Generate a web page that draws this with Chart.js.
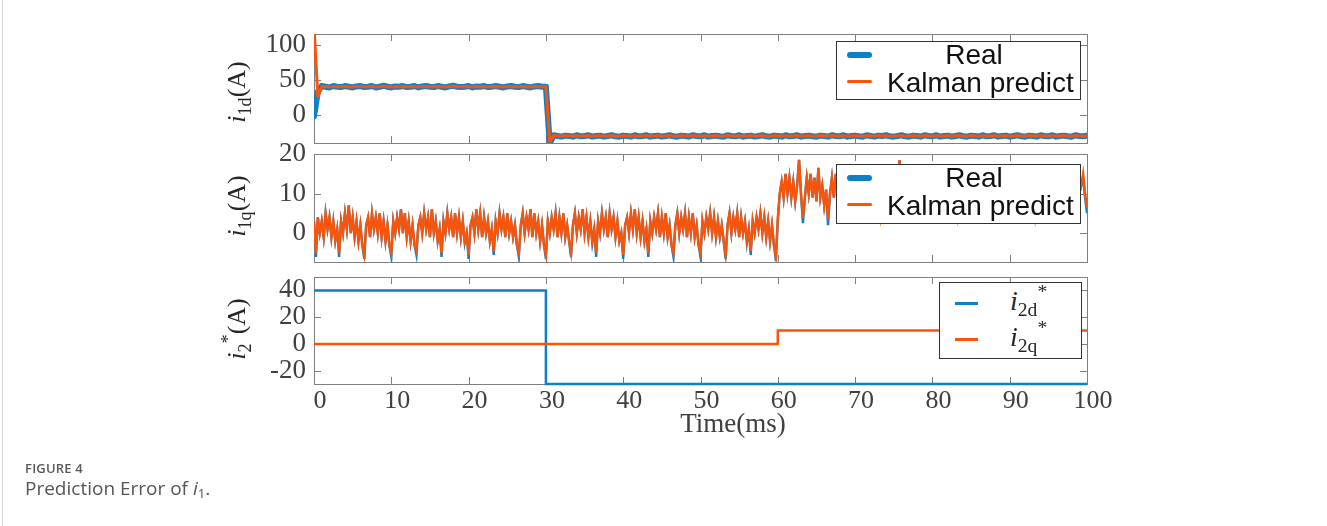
<!DOCTYPE html>
<html>
<head>
<meta charset="utf-8">
<title>Prediction Error of i1</title>
<script src="https://cdn.jsdelivr.net/npm/chart.js@4.4.1/dist/chart.umd.min.js"></script>
<style>
  html, body { margin: 0; padding: 0; background: #ffffff; }
  #page { position: relative; width: 1327px; height: 526px; overflow: hidden; background: #fff; }
  #page canvas { position: absolute; left: 0; top: 0; }
  .edge { position: absolute; left: 2px; top: 0; width: 1px; height: 526px; background: #d6d6d6; }
  .ytitle { position: absolute; transform: translate(-50%, -50%) rotate(-90deg); font: 26px 'Liberation Serif', serif; color: #262626; white-space: nowrap; line-height: 1; }
  .xtitle { position: absolute; transform: translate(-50%, -50%); font: 27px 'Liberation Serif', serif; color: #404040; white-space: nowrap; line-height: 1; }
  .sub { font-size: 0.7em; position: relative; top: 0.32em; }
  .sup { font-size: 0.7em; position: relative; top: -0.6em; }
  .legend { position: absolute; background: #fff; border: 1px solid #333; box-sizing: border-box; }
  .sw { position: absolute; }
  .lt { position: absolute; font: 28px 'Liberation Sans', Arial, sans-serif; line-height: 28px; color: #111; white-space: nowrap; }
  .ls { position: absolute; font: 28px 'Liberation Serif', serif; line-height: 28px; color: #262626; white-space: nowrap; }
  .fig { position: absolute; left: 25px; top: 459px; font: 600 13px 'Open Sans', sans-serif; color: #5a5a5a; letter-spacing: 0.2px; }
  .cap { position: absolute; left: 25px; top: 475px; font: 19px 'Open Sans', sans-serif; color: #555; white-space: nowrap; }
  .cap sub { font-size: 0.7em; vertical-align: -0.25em; }
</style>
</head>
<body>
<div id="page">
  <div class="edge"></div>
  <canvas id="c1" width="1327" height="526"></canvas>
  <canvas id="c2" width="1327" height="526"></canvas>
  <canvas id="c3" width="1327" height="526"></canvas>

  <div class="ytitle" style="left:237px; top:92px;"><i>i</i><span class="sub">1d</span>(A)</div>
  <div class="ytitle" style="left:237px; top:206px;"><i>i</i><span class="sub">1q</span>(A)</div>
  <div class="ytitle" style="left:237px; top:329px;"><i>i</i><span class="sub">2</span><span class="sup">*</span>(A)</div>
  <div class="xtitle" style="left:733px; top:423px;">Time(ms)</div>

  <div class="legend" style="left:836px; top:41px; width:245px; height:59px;">
    <div class="sw" style="left:10px; top:10px; width:25px; height:6px; border-radius:3px; background:#0d80c6;"></div>
    <div class="sw" style="left:10px; top:38px; width:25px; height:3px; border-radius:2px; background:#fa540a;"></div>
    <div class="lt" style="left:42px; width:190px; text-align:center; top:-1px;">Real</div>
    <div class="lt" style="left:50px; top:27px;">Kalman predict</div>
  </div>
  <div class="legend" style="left:836px; top:164px; width:245px; height:60px;">
    <div class="sw" style="left:10px; top:10px; width:25px; height:6px; border-radius:3px; background:#0d80c6;"></div>
    <div class="sw" style="left:10px; top:38px; width:25px; height:3px; border-radius:2px; background:#fa540a;"></div>
    <div class="lt" style="left:42px; width:190px; text-align:center; top:-1px;">Real</div>
    <div class="lt" style="left:50px; top:27px;">Kalman predict</div>
  </div>
  <div class="legend" style="left:939px; top:282px; width:143px; height:77px;">
    <div class="sw" style="left:15px; top:19px; width:23px; height:3px; background:#0d80c6;"></div>
    <div class="sw" style="left:15px; top:55px; width:23px; height:3px; background:#fa540a;"></div>
    <div class="ls" style="left:70px; top:4px;"><i>i</i><span class="sub">2d</span><span class="sup">*</span></div>
    <div class="ls" style="left:70px; top:40px;"><i>i</i><span class="sub">2q</span><span class="sup">*</span></div>
  </div>

  <div class="fig">FIGURE 4</div>
  <div class="cap">Prediction Error of <i>i</i><sub>1</sub>.</div>
</div>

<script>
// time axis (ms)
const xTicks = [0, 10, 20, 30, 40, 50, 60, 70, 80, 90, 100];

// panel 1: i1d, sampled every 0.5 ms
const i1dStep = 0.5;
const i1dTicks = [0, 50, 100];
const i1dReal = [
    -2, 33, 41, 40, 39, 41, 40, 39.5, 41, 40,
    39, 40.5, 41, 39.5, 40, 41, 39, 40, 41.5, 40,
    39, 40.5, 40, 41, 39.5, 40, 41, 39, 40.5, 41,
    40, 39.5, 41, 40, 39, 40.5, 41.5, 40, 39.5, 40,
    41, 39, 40.5, 40, 41, 39.5, 40, 41, 40, 39,
    40.5, 41, 40, 39.5, 41, 40, 39, 40.5, 41, 40,
    40, -41, -29, -30, -31, -29.5, -30, -31, -29, -30.5,
    -30, -29, -31, -30, -29.5, -31, -30, -29, -30.5, -31,
    -29.5, -30, -31, -29, -30.5, -30, -29, -31, -30, -29.5,
    -31, -30, -29, -30.5, -31, -29.5, -30, -31, -29, -30,
    -30.5, -29, -31, -30, -29.5, -30.5, -31, -29, -30, -30.5,
    -29, -31, -30, -29.5, -31, -30, -29, -30.5, -31, -29.5,
    -30, -31, -29, -30.5, -30, -29, -31, -30, -29.5, -30.5,
    -31, -29.5, -30, -31, -29, -30, -30.5, -29, -31, -30,
    -29.5, -30.5, -31, -29, -30, -31, -29.5, -30, -29, -30.5,
    -31, -30, -29, -30.5, -31, -29.5, -30, -31, -29, -30,
    -30.5, -29, -31, -30, -29.5, -31, -30, -29, -30.5, -31,
    -29.5, -30, -31, -29, -30.5, -30, -29, -31, -30, -29.5,
    -31, -30, -29, -30.5, -31, -29.5, -30, -31, -29, -30,
    -30.5, -29, -31, -30, -29.5, -30.5, -31, -29, -30, -30.5,
    -29.5
];
const i1dKalman = [
    125, 26, 40, 40.5, 39.5, 40.5, 40, 40, 40.5, 39.5,
    39.5, 40.5, 40.5, 40, 40, 40.5, 39.5, 40, 41, 40,
    39.5, 40, 40, 40.5, 40, 40, 40.5, 39.5, 40.5, 40.5,
    40, 40, 40.5, 40, 39.5, 40.5, 41, 40, 40, 40,
    40.5, 39.5, 40.5, 40, 40.5, 40, 40, 40.5, 40, 39.5,
    40.5, 40.5, 40, 40, 40.5, 40, 39.5, 40.5, 40.5, 40,
    40, -38, -29.5, -30, -30.5, -29.5, -30, -30.5, -29.5, -30.5,
    -30, -29.5, -30.5, -30, -29.5, -30.5, -30, -29.5, -30.5, -30.5,
    -29.5, -30, -30.5, -29.5, -30.5, -30, -29.5, -30.5, -30, -29.5,
    -30.5, -30, -29.5, -30.5, -30.5, -29.5, -30, -30.5, -29.5, -30,
    -30.5, -29.5, -30.5, -30, -29.5, -30.5, -30.5, -29.5, -30, -30.5,
    -29.5, -30.5, -30, -29.5, -30.5, -30, -29.5, -30.5, -30.5, -29.5,
    -30, -30.5, -29.5, -30.5, -30, -29.5, -30.5, -30, -29.5, -30.5,
    -30.5, -29.5, -30, -30.5, -29.5, -30, -30.5, -29.5, -30.5, -30,
    -29.5, -30.5, -30.5, -29.5, -30, -30.5, -29.5, -30, -29.5, -30.5,
    -30.5, -30, -29.5, -30.5, -30.5, -29.5, -30, -30.5, -29.5, -30,
    -30.5, -29.5, -30.5, -30, -29.5, -30.5, -30, -29.5, -30.5, -30.5,
    -29.5, -30, -30.5, -29.5, -30.5, -30, -29.5, -30.5, -30, -29.5,
    -30.5, -30, -29.5, -30.5, -30.5, -29.5, -30, -30.5, -29.5, -30,
    -30.5, -29.5, -30.5, -30, -29.5, -30.5, -30.5, -29.5, -30, -30.5,
    -30
];

// panel 2: i1q, sampled every 0.25 ms
const i1qStep = 0.25;
const i1qTicks = [0, 10, 20];
const i1qReal = [
    3, -6, 4, 0, 3, -1, 5, 1, 4, -1, 3, -2, 1, -6,
    3, 0, 5, 1, 7, 0, 4, -1, 3, -2, 2, -3, -6.5,
    2, 4, -1, 5, 1, 4, 0, 5, -1, 3, -2, 2, -3, -6,
    3, 0, 4, 1, 6, 0, 5, -1, 3, -2, 2, -3, -5.5,
    2, 4, 0, 5, 1, 4, -1, 6, 0, 3, -2, 1, -6,
    3, 0, 5, 1, 4, -1, 5, 0, 4, -1, 3, -2.5, 0, -6.5,
    2, 4, 0, 6, 1, 5, -1, 4, 0, 3, -2, 1, -5.5,
    3, 0, 5, 1, 4, -1, 5, 0, 3, -1, 2, -3, -6,
    2, 5, 0, 4, 1, 6, -1, 5, 0, 3, -2, 2, -3, -6.5,
    3, 0, 4, 1, 5, -1, 4, 0, 5, -1, 2, -2, -6,
    2, 5, 0, 4, 1, 6, 0, 4, -1, 3, -2.5, 1, -6,
    3, 0, 5, 1, 4, -1, 5, 1, 4, -1, 3, -2, 0, -6.5,
    2, 4, 0, 5, 1, 6, 0, 4, -1, 3, -2, 1, -6,
    3, 0, 4, 1, 5, -1, 4, 0, 5, -1, 2, -3, -6,
    2, 5, 0, 4, 1, 5, -1, 4, 0, 5, -1, 2, -3, -6,
    3, 0, 4, 1, 5, 0, 4, -1, 3, -1, 2, -2, -6.5,
    2, 5, 0, 4, 1, 5, -1, 4, 0, 3, -2.5, 1, -5.5,
    3, 0, 4, 1, 5, 0, 4, -1, 3, -2, 2, -3, -7,
    3, 10, 13, 9, 15, 10, 14, 9, 13, 8, 12, 18.5, 10, 2.5,
    9, 14, 10, 15, 9, 14, 8, 16.5, 9, 12, 7, 11, 2,
    10, 14, 9, 15, 10, 13, 8, 14, 9, 12, 7, 10, 2.5,
    9, 14, 10, 16, 9, 14, 8, 13, 9, 12, 8, 11, 7, 2.5,
    10, 15, 9, 14, 10, 14, 9, 13, 8, 18.5, 7, 10, 2.5,
    9, 14, 10, 15, 9, 13, 8, 14, 9, 12, 7, 11, 2.5,
    10, 14, 9, 16, 10, 13, 8, 14, 9, 12, 8, 11, 7, 2.5,
    9, 15, 10, 14, 9, 13, 8, 14, 9, 12, 7, 10, 2.5,
    10, 14, 9, 16, 10, 13, 9, 14, 8, 12, 7, 11, 2.5,
    9, 14, 10, 15, 9, 13, 8, 14, 9, 12, 8, 11, 7, 2.5,
    10, 15, 9, 14, 10, 13, 8, 14, 9, 12, 7, 10, 2.5,
    9, 14, 10, 15, 9, 14, 8, 13, 9, 14, 12, 14, 9, 5
];
const i1qKalman = [
    3, -5, 4, 0, 3, -1, 5, 1, 4, -1, 3, -2, 1, -5,
    3, 0, 5, 1, 7, 0, 4, -1, 3, -2, 2, -3, -5.5,
    2, 4, -1, 5, 1, 4, 0, 5, -1, 3, -2, 2, -3, -5,
    3, 0, 4, 1, 6, 0, 5, -1, 3, -2, 2, -3, -4.5,
    2, 4, 0, 5, 1, 4, -1, 6, 0, 3, -2, 1, -5,
    3, 0, 5, 1, 4, -1, 5, 0, 4, -1, 3, -2, 0, -5.5,
    2, 4, 0, 6, 1, 5, -1, 4, 0, 3, -2, 1, -4.5,
    3, 0, 5, 1, 4, -1, 5, 0, 3, -1, 2, -3, -5,
    2, 5, 0, 4, 1, 6, -1, 5, 0, 3, -2, 2, -3, -5.5,
    3, 0, 4, 1, 5, -1, 4, 0, 5, -1, 2, -2, -5,
    2, 5, 0, 4, 1, 6, 0, 4, -1, 3, -2, 1, -5,
    3, 0, 5, 1, 4, -1, 5, 1, 4, -1, 3, -2, 0, -5.5,
    2, 4, 0, 5, 1, 6, 0, 4, -1, 3, -2, 1, -5,
    3, 0, 4, 1, 5, -1, 4, 0, 5, -1, 2, -3, -5,
    2, 5, 0, 4, 1, 5, -1, 4, 0, 5, -1, 2, -3, -5,
    3, 0, 4, 1, 5, 0, 4, -1, 3, -1, 2, -2, -5.5,
    2, 5, 0, 4, 1, 5, -1, 4, 0, 3, -2, 1, -4.5,
    3, 0, 4, 1, 5, 0, 4, -1, 3, -2, 2, -3, -6,
    4, 10, 13, 9, 15, 10, 14, 9, 13, 8, 12, 18.5, 10, 4,
    9, 14, 10, 15, 9, 14, 8, 16.5, 9, 12, 7, 11, 3.5,
    10, 14, 9, 15, 10, 13, 8, 14, 9, 12, 7, 10, 4,
    9, 14, 10, 16, 9, 14, 8, 13, 9, 12, 8, 11, 7, 4,
    10, 15, 9, 14, 10, 14, 9, 13, 8, 18.5, 7, 10, 4,
    9, 14, 10, 15, 9, 13, 8, 14, 9, 12, 7, 11, 4,
    10, 14, 9, 16, 10, 13, 8, 14, 9, 12, 8, 11, 7, 4,
    9, 15, 10, 14, 9, 13, 8, 14, 9, 12, 7, 10, 4,
    10, 14, 9, 16, 10, 13, 9, 14, 8, 12, 7, 11, 4,
    9, 14, 10, 15, 9, 13, 8, 14, 9, 12, 8, 11, 7, 4,
    10, 15, 9, 14, 10, 13, 8, 14, 9, 12, 7, 10, 4,
    9, 14, 10, 15, 9, 14, 8, 13, 9, 14, 12, 15, 10, 6.5
];

// panel 3: reference currents (step changes)
const i2Ticks = [-20, 0, 20, 40];
const i2dTime = [0, 30, 30, 100];
const i2dRef = [40, 40, -30, -30];
const i2qTime = [0, 60, 60, 100];
const i2qRef = [0, 0, 10, 10];

const BLUE = '#0d80c6';
const ORANGE = '#fa540a';
const SERIF = "'Liberation Serif', 'Times New Roman', serif";

function sampled(values, step) {
    return values.map((v, k) => ({ x: k * step, y: v }));
}

function paired(times, values) {
    return times.map((t, k) => ({ x: t, y: values[k] }));
}

// MATLAB style box with inward ticks on all four sides
const boxTicks = {
    id: 'boxTicks',
    beforeDatasetsDraw(chart, args, opts) {
        const { ctx, chartArea: a } = chart;
        const xs = chart.scales.x;
        const ys = chart.scales.y;
        ctx.save();
        ctx.strokeStyle = '#7f7f7f';
        ctx.lineWidth = 1;
        ctx.beginPath();
        opts.xTicks.forEach(v => {
            const p = Math.round(xs.getPixelForValue(v)) + 0.5;
            ctx.moveTo(p, a.bottom); ctx.lineTo(p, a.bottom - 7);
            ctx.moveTo(p, a.top); ctx.lineTo(p, a.top + 7);
        });
        opts.yTicks.forEach(v => {
            const p = Math.round(ys.getPixelForValue(v)) + 0.5;
            ctx.moveTo(a.left, p); ctx.lineTo(a.left + 7, p);
            ctx.moveTo(a.right, p); ctx.lineTo(a.right - 7, p);
        });
        ctx.stroke();
        ctx.strokeRect(Math.round(a.left) + 0.5, Math.round(a.top) + 0.5, Math.round(a.width), Math.round(a.height));
        ctx.restore();
    }
};

function makePanel(canvasId, panel) {
    const xAxis = panel.showX ? {
        type: 'linear',
        min: 0,
        max: 100,
        afterBuildTicks: s => { s.ticks = xTicks.map(v => ({ value: v })); },
        afterFit: s => { s.height = 56; },
        grid: { display: false, drawTicks: false },
        border: { display: false },
        ticks: {
            padding: 2,
            labelOffset: 6,
            maxRotation: 0,
            autoSkip: false,
            color: '#404040',
            font: { family: SERIF, size: 26 }
        }
    } : {
        type: 'linear',
        min: 0,
        max: 100,
        afterFit: s => { s.height = 0; },
        grid: { display: false, drawTicks: false },
        border: { display: false },
        ticks: { display: false }
    };

    return new Chart(document.getElementById(canvasId), {
        type: 'line',
        data: { datasets: panel.datasets },
        plugins: [boxTicks],
        options: {
            responsive: false,
            animation: false,
            events: [],
            parsing: false,
            layout: { padding: { left: 214, right: 240, top: panel.top, bottom: panel.bottom } },
            plugins: {
                legend: { display: false },
                tooltip: { enabled: false },
                boxTicks: { xTicks, yTicks: panel.yTicks }
            },
            elements: { point: { radius: 0 } },
            scales: {
                x: xAxis,
                y: {
                    type: 'linear',
                    min: panel.yMin,
                    max: panel.yMax,
                    afterBuildTicks: s => { s.ticks = panel.yTicks.map(v => ({ value: v })); },
                    afterFit: s => { s.width = 100; },
                    grid: { display: false, drawTicks: false },
                    border: { display: false },
                    ticks: {
                        padding: 8,
                        color: '#404040',
                        font: { family: SERIF, size: 27 }
                    }
                }
            }
        }
    });
}

makePanel('c1', {
    top: 34, bottom: 526 - 143, yMin: -40, yMax: 115, yTicks: i1dTicks,
    datasets: [
        { label: 'Real', data: sampled(i1dReal, i1dStep), borderColor: BLUE, borderWidth: 6,
          borderCapStyle: 'round', borderJoinStyle: 'round', order: 2 },
        { label: 'Kalman predict', data: sampled(i1dKalman, i1dStep), borderColor: ORANGE, borderWidth: 3,
          borderCapStyle: 'round', borderJoinStyle: 'round', order: 1 }
    ]
});

makePanel('c2', {
    top: 154, bottom: 526 - 262, yMin: -7.3, yMax: 20, yTicks: i1qTicks,
    datasets: [
        { label: 'Real', data: sampled(i1qReal, i1qStep), borderColor: BLUE, borderWidth: 2.4, order: 2 },
        { label: 'Kalman predict', data: sampled(i1qKalman, i1qStep), borderColor: ORANGE, borderWidth: 2.4, order: 1 }
    ]
});

makePanel('c3', {
    top: 277, bottom: 526 - 384 - 56, yMin: -30, yMax: 50, yTicks: i2Ticks, showX: true,
    datasets: [
        { label: 'i2d*', data: paired(i2dTime, i2dRef), borderColor: BLUE, borderWidth: 2.5, clip: 4, order: 2 },
        { label: 'i2q*', data: paired(i2qTime, i2qRef), borderColor: ORANGE, borderWidth: 2.5, clip: 4, order: 1 }
    ]
});
</script>
</body>
</html>
